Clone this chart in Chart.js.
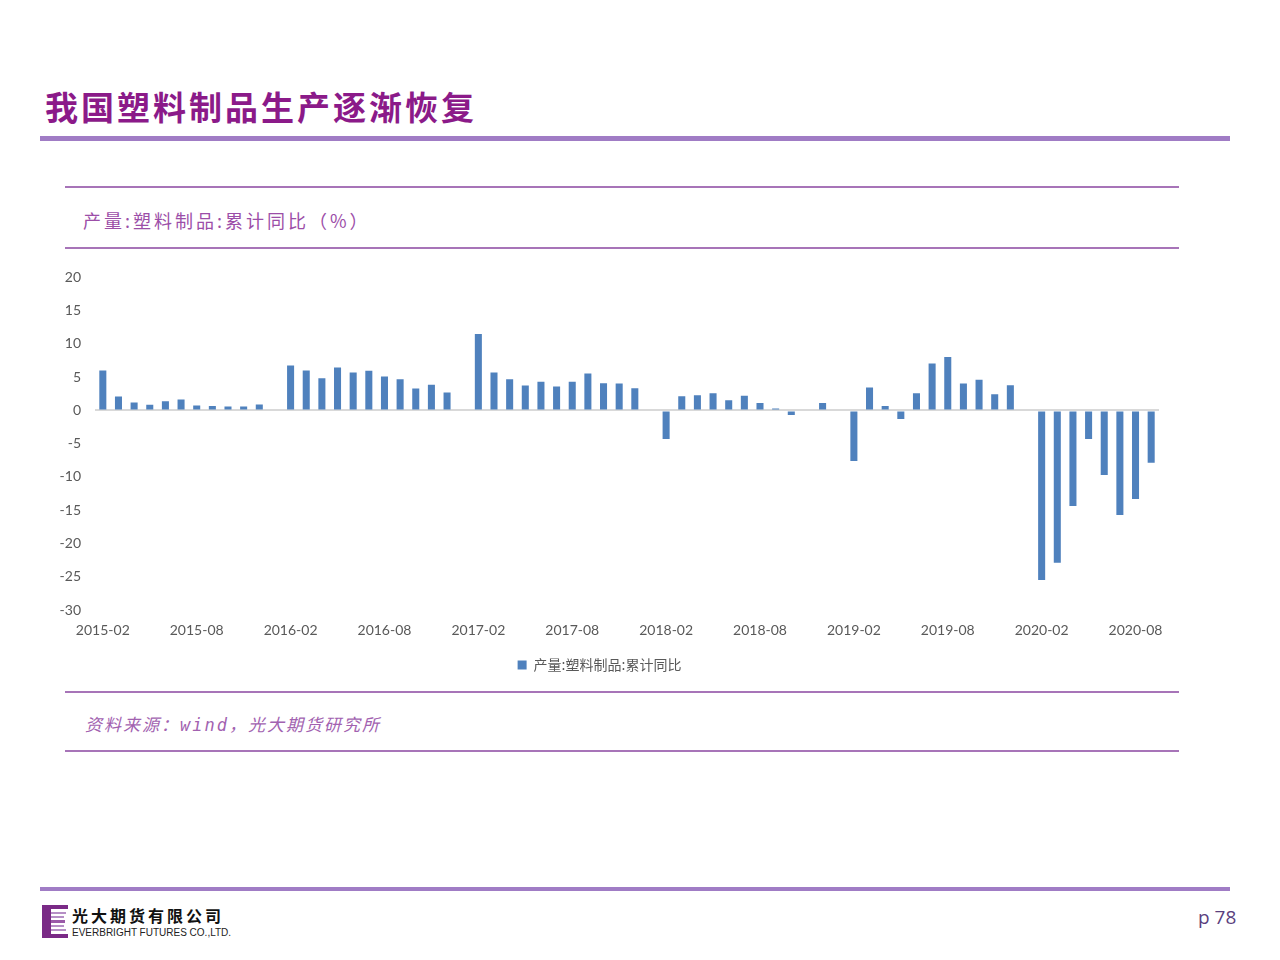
<!DOCTYPE html>
<html lang="zh">
<head>
  <meta charset="UTF-8">
  <title>我国塑料制品生产逐渐恢复</title>
  <script src="https://cdn.jsdelivr.net/npm/chart.js"></script>
  <style>
    html, body { margin: 0; padding: 0; background: #fff; }
    body { width: 1280px; height: 960px; position: relative; overflow: hidden; font-family: "Noto Sans CJK SC", sans-serif; }
    .abs { position: absolute; }
    .title { left: 45px; top: 82px; font-size: 33px; font-weight: 700; color: #8b1a89; letter-spacing: 3px; }
    .hline { background: #a07cc5; }
    .boxline { background: #a774b8; height: 2px; left: 65px; width: 1114px; }
    .sub { left: 83px; top: 207px; font-size: 18px; color: #9c4ea8; letter-spacing: 3px; }
    .src { left: 85px; top: 711px; font-size: 17px; color: #a262b0; font-style: italic; letter-spacing: 2px;
           font-family: "DejaVu Sans Mono", "Noto Sans CJK SC", monospace; }
    .page { left: 1198px; top: 904px; font-size: 19px; color: #5b3f7e; font-family: "Open Sans", sans-serif; }
    .cn { left: 72px; top: 903px; font-size: 16px; font-weight: 700; color: #111; letter-spacing: 3px; }
    .en { left: 72px; top: 927px; font-size: 10px; color: #222; font-family: "Liberation Sans", sans-serif; }
    #wrap { left: 40px; top: 255px; width: 1140px; height: 429px; }
  </style>
</head>
<body>
  <div class="abs title">我国塑料制品生产逐渐恢复</div>
  <div class="abs hline" style="left:40px; top:136px; width:1190px; height:5px;"></div>

  <div class="abs boxline" style="top:186px;"></div>
  <div class="abs sub">产量:塑料制品:累计同比（%）</div>
  <div class="abs boxline" style="top:247px;"></div>

  <div id="wrap" class="abs"><canvas id="myChart"></canvas></div>

  <div class="abs boxline" style="top:691px;"></div>
  <div class="abs src">资料来源：wind，光大期货研究所</div>
  <div class="abs boxline" style="top:750px;"></div>

  <div class="abs hline" style="left:40px; top:887px; width:1190px; height:4px;"></div>
  <svg class="abs" style="left:42px; top:905px;" width="26" height="33" viewBox="0 0 26 33">
    <rect x="0" y="0" width="9" height="33" fill="#7a2a86"/>
    <rect x="9" y="0" width="17" height="4" fill="#7a2a86"/>
    <rect x="9" y="29" width="17" height="4" fill="#7a2a86"/>
    <rect x="9" y="7" width="15" height="2" fill="#b68fc6"/>
    <rect x="9" y="11" width="13" height="2" fill="#b68fc6"/>
    <rect x="9" y="15" width="14" height="3" fill="#9a5aa8"/>
    <rect x="9" y="20" width="13" height="2" fill="#b68fc6"/>
    <rect x="9" y="24" width="15" height="2" fill="#b68fc6"/>
  </svg>
  <div class="abs cn">光大期货有限公司</div>
  <div class="abs en">EVERBRIGHT FUTURES CO.,LTD.</div>
  <div class="abs page">p 78</div>

  <script>
    // monthly categories 2015-02 .. 2020-09 (January has no data)
    const months = [
      '2015-02','2015-03','2015-04','2015-05','2015-06','2015-07','2015-08','2015-09','2015-10','2015-11','2015-12',
      '2016-01','2016-02','2016-03','2016-04','2016-05','2016-06','2016-07','2016-08','2016-09','2016-10','2016-11','2016-12',
      '2017-01','2017-02','2017-03','2017-04','2017-05','2017-06','2017-07','2017-08','2017-09','2017-10','2017-11','2017-12',
      '2018-01','2018-02','2018-03','2018-04','2018-05','2018-06','2018-07','2018-08','2018-09','2018-10','2018-11','2018-12',
      '2019-01','2019-02','2019-03','2019-04','2019-05','2019-06','2019-07','2019-08','2019-09','2019-10','2019-11','2019-12',
      '2020-01','2020-02','2020-03','2020-04','2020-05','2020-06','2020-07','2020-08','2020-09'
    ];

    const yoy2015 = [6.0, 2.1, 1.2, 0.85, 1.4, 1.65, 0.75, 0.65, 0.6, 0.6, 0.9];
    const yoy2016 = [null, 6.75, 6.0, 4.85, 6.45, 5.7, 5.95, 5.1, 4.7, 3.3, 3.85, 2.7];
    const yoy2017 = [null, 11.5, 5.7, 4.7, 3.75, 4.3, 3.6, 4.3, 5.55, 4.1, 4.05, 3.35];
    const yoy2018 = [null, -4.3, 2.15, 2.3, 2.6, 1.55, 2.2, 1.1, 0.3, -0.7, null, 1.1];
    const yoy2019 = [null, -7.6, 3.45, 0.65, -1.3, 2.6, 7.05, 8.05, 4.05, 4.6, 2.45, 3.8];
    const yoy2020 = [null, -25.5, -22.9, -14.35, -4.3, -9.7, -15.7, -13.3, -7.85];

    const seriesName = '产量:塑料制品:累计同比';
    const yTicks = [20, 15, 10, 5, 0, -5, -10, -15, -20, -25, -30];

    const values = [].concat(yoy2015, yoy2016, yoy2017, yoy2018, yoy2019, yoy2020);

    const ctx = document.getElementById('myChart').getContext('2d');
    new Chart(ctx, {
      type: 'bar',
      data: {
        labels: months,
        datasets: [{
          label: seriesName,
          data: values,
          backgroundColor: '#4f81bd',
          borderWidth: 0,
          barPercentage: 0.9,
          categoryPercentage: 0.5
        }]
      },
      options: {
        responsive: true,
        maintainAspectRatio: false,
        animation: false,
        layout: { padding: { top: 8, right: 21, bottom: 2, left: 0 } },
        plugins: {
          tooltip: { enabled: false },
          legend: {
            position: 'bottom',
            labels: {
              boxWidth: 9, boxHeight: 9, padding: 10,
              color: '#595959',
              font: { family: '"Noto Sans CJK SC", sans-serif', size: 14 }
            }
          }
        },
        scales: {
          x: {
            grid: { display: false, drawTicks: false },
            border: { display: false },
            ticks: {
              autoSkip: false, maxRotation: 0, padding: 12,
              color: '#595959',
              font: { family: 'Lato, sans-serif', size: 14 },
              callback: function (v, i) { return i % 6 === 0 ? months[i] : ''; }
            },
            afterFit: function (s) { s.height = 38; }
          },
          y: {
            min: Math.min(...yTicks), max: Math.max(...yTicks),
            border: { display: false },
            grid: {
              drawTicks: false,
              color: function (c) { return c.tick && c.tick.value === 0 ? '#d9d9d9' : 'rgba(0,0,0,0)'; },
              lineWidth: 2
            },
            ticks: {
              stepSize: 5, padding: 14,
              color: '#595959',
              font: { family: 'Lato, sans-serif', size: 14 }
            },
            afterFit: function (s) { s.width = 55; }
          }
        }
      }
    });
  </script>
</body>
</html>
